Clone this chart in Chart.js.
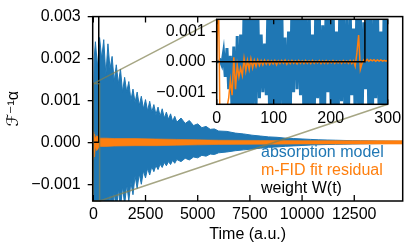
<!DOCTYPE html>
<html>
<head>
<meta charset="utf-8">
<script src="https://cdn.jsdelivr.net/npm/chart.js@4.4.1/dist/chart.umd.min.js"></script>
<style>
  body { margin: 0; background: #fff; }
  #wrap { position: relative; width: 415px; height: 244px; overflow: hidden; }
  #main { position: absolute; left: 0; top: 0; }
  #inset { position: absolute; left: 140px; top: 0; }
</style>
</head>
<body>
<div id="wrap">
  <canvas id="main" width="415" height="244"></canvas>
  <canvas id="inset" width="270" height="135"></canvas>
</div>
<script>
// ---- data ----
const legendLabels = ["absorption model", "m-FID fit residual", "weight W(t)"];
const seriesColors = ["#1f77b4", "#ff7f0e", "#000000"];

const xTicks = [0, 2500, 5000, 7500, 10000, 12500];
const yTicks = [-0.001, 0, 0.001, 0.002, 0.003];
const insetXTicks = [0, 100, 200, 300];
const insetYTicks = [-0.001, 0, 0.001];

// zoomed region (t range, value range) shown in the inset
const zoomX = [0, 300];
const zoomY = [-0.0014, 0.0014];

// absorption model, envelope of the fast oscillation (spikes and dips)
const blueTime = [0, 40, 100, 200, 300, 400, 500, 600, 700, 800, 900, 1000, 1100, 1200, 1300, 1400, 1500, 1600, 1700,
  1800, 1900, 2000, 2100, 2200, 2300, 2400, 2500, 2600, 2700, 2800, 2900, 3000, 3100, 3200, 3300, 3400, 3500, 3600,
  3700, 3800, 3900, 4000, 4200, 4400, 4600, 4800, 5000, 5200, 5400, 5600, 5800, 6000, 6400, 6800, 7200, 7600, 8000,
  8400, 8800, 9200, 9600, 10000, 10400, 10800, 11200, 11600, 12000, 12400, 12800, 13200, 13600, 14000, 14400, 14800];
const blueUpper = [0, 0.002, 0.0024, 0.0018, 0.0025, 0.002, 0.00245, 0.0016, 0.00235, 0.00175, 0.00205, 0.00145,
  0.00185, 0.0014, 0.00175, 0.0012, 0.00155, 0.0012, 0.00145, 0.001, 0.00127, 0.00095, 0.0012, 0.00088, 0.0011,
  0.0008, 0.00102, 0.00075, 0.00098, 0.00072, 0.0009, 0.00066, 0.00084, 0.00062, 0.0008, 0.00058, 0.00072, 0.00055,
  0.00068, 0.0005, 0.00062, 0.00048, 0.00058, 0.00045, 0.00052, 0.0004, 0.00044, 0.00035, 0.00038, 0.00031, 0.00032,
  0.00027, 0.00026, 0.00022, 0.0002, 0.00017, 0.00015, 0.00013, 0.00012, 0.0001, 0.00009, 0.00008, 0.00007, 0.00006,
  0.000055, 0.00005, 0.000045, 0.00004, 0.000038, 0.000035, 0.000032, 0.00003, 0.000028, 0.000025];
const blueLower = [0, -0.002, -0.0023, -0.0019, -0.0023, -0.0018, -0.0022, -0.0015, -0.002, -0.00125, -0.0019,
  -0.00115, -0.0017, -0.0011, -0.0016, -0.00105, -0.0015, -0.001, -0.0014, -0.00095, -0.00125, -0.0008, -0.0011,
  -0.00075, -0.001, -0.00068, -0.00085, -0.00062, -0.00078, -0.00058, -0.0007, -0.00055, -0.00065, -0.00052, -0.0006,
  -0.00048, -0.00056, -0.00046, -0.00053, -0.00043, -0.0005, -0.00041, -0.00046, -0.00038, -0.00042, -0.00035,
  -0.00037, -0.00031, -0.00033, -0.00028, -0.00029, -0.00025, -0.00023, -0.0002, -0.00018, -0.00016, -0.00014,
  -0.00012, -0.00011, -0.000095, -0.000085, -0.000075, -0.000065, -0.000058, -0.000052, -0.000047, -0.000043,
  -0.00004, -0.000037, -0.000034, -0.000031, -0.000029, -0.000027, -0.000025];

// m-FID fit residual, envelope
const orangeTime = [0, 20, 60, 100, 160, 300, 600, 1000, 2000, 3000, 4000, 5000, 6000, 8000, 10000, 12000, 14800];
const orangeUpper = [0.00025, 0.00005, 0.0002, 0.0001, 0.00016, 0.0001, 0.0001, 0.00009, 0.00009, 0.00008, 0.00007,
  0.00006, 0.00005, 0.000045, 0.00004, 0.00004, 0.00004];
const orangeLower = [-0.0004, -0.00015, -0.00035, -0.0001, -0.0002, -0.0001, -0.0001, -0.00009, -0.00008, -0.00008,
  -0.00007, -0.00006, -0.00005, -0.000045, -0.00004, -0.00004, -0.00004];

// weight W(t): zero, then a step far above the plotted range
const weightTime = [0, 260, 260, 14800];
const weightValue = [0, 0, 1, 1];

// inset samples (t = 0..300)
const insetTime = [0, 3, 6, 9, 12, 15, 18, 21, 24, 27, 30, 33, 36, 39, 42, 45, 48, 51, 54, 57, 60, 63, 66, 69, 72, 75,
  78, 81, 84, 87, 90, 93, 96, 99, 102, 105, 108, 111, 114, 117, 120, 123, 126, 129, 132, 135, 138, 141, 144, 147, 150,
  153, 156, 159, 162, 165, 168, 171, 174, 177, 180, 183, 186, 189, 192, 195, 198, 201, 204, 207, 210, 213, 216, 219,
  222, 225, 228, 231, 234, 237, 240, 243, 246, 249, 252, 255, 258, 261, 264, 267, 270, 273, 276, 279, 282, 285, 288,
  291, 294, 297, 300];
const insetBlue = [0, 0, 0.00005, -0.0001, 0.0003, -0.0005, 0.00045, -0.0009, 0.0002, -0.0016, 0.0005, -0.002,
  0.00085, -0.0019, 0.0009, -0.0021, 0.0018, -0.0022, 0.0022, -0.0018, 0.0024, -0.002, 0.002, -0.0015, 0.0018,
  -0.0012, 0.0009, -0.001, 0.0006, -0.0011, 0.0019, -0.002, 0.0023, -0.0019, 0.0021, -0.0022, 0.0017, -0.0016, 0.002,
  -0.0018, 0.0008, -0.002, 0.001, -0.0019, 0.0019, -0.001, 0.0022, -0.0009, 0.0018, -0.0011, 0.0021, -0.0019, 0.0016,
  -0.0021, 0.0019, -0.0015, 0.0009, -0.002, 0.002, -0.0012, 0.0017, -0.0019, 0.0012, -0.0021, 0.002, -0.001, 0.0015,
  -0.0018, 0.0021, -0.0017, 0.001, -0.002, 0.0018, -0.0013, 0.002, -0.0019, 0.0014, -0.002, 0.0019, -0.0011, 0.0011,
  -0.0019, 0.002, -0.0015, 0.0017, -0.002, 0.0013, -0.0009, 0.002, -0.0019, 0.0015, -0.0021, 0.0019, -0.0012, 0.0018,
  -0.0018, 0.001, -0.002, 0.0021, -0.0016, 0.0018];
const insetOrange = [0, 0.0025, -0.0025, -0.0022, -0.0019, -0.0018, -0.0015, -0.0012, -0.0006, -0.0011, 0.00015,
  -0.0009, -0.0001, -0.0005, -0.0002, -0.00045, 0.0001, -0.0003, 0.00005, -0.00025, 0.0001, -0.0002, 0.00005,
  -0.00015, 0.00006, -0.00012, 0.00004, -0.0001, 0.00005, -0.00008, 0.00004, -0.00009, 0.00003, -0.00007, 0.00004,
  -0.0001, 0.00003, -0.00006, 0.00004, -0.00005, 0.00005, -0.00008, 0.00003, -0.00006, 0.00004, -0.00005, 0.00003,
  -0.00007, 0.00004, -0.00005, 0.00003, -0.00006, 0.00004, -0.00005, 0.00003, -0.00006, 0.00004, -0.00005, 0.00003,
  -0.00004, 0.00004, -0.00006, 0.00003, -0.00005, 0.00004, -0.00005, 0.00003, -0.00004, 0.00004, -0.00005, 0.00003,
  -0.00004, 0.00003, -0.00005, 0.00004, -0.00004, 0.00003, -0.00005, 0.00004, -0.00006, 0.00003, -0.00015, 0.0003,
  0.00088, -0.00025, -0.00005, 0.00006, 0.00002, 0.00008, 0.00002, 0.00007, 0.00003, 0.00007, 0.00002, 0.00006,
  0.00002, 0.00006, 0.00002, 0.00005, 0.00002, 0.00005];

// ---- helpers ----
const FONT = "'Liberation Sans', 'DejaVu Sans', Arial, sans-serif";
Chart.defaults.font.family = FONT;
Chart.defaults.font.size = 16;
Chart.defaults.color = "#000";

const pts = (xs, ys) => xs.map((x, i) => ({ x: x, y: ys[i] }));
const fmt3 = (v) => {
  if (Math.abs(v) < 1e-12) return "0.000";
  return (v < 0 ? "\u2212" : "") + Math.abs(v).toFixed(3);
};
const setTicks = (arr) => (scale) => { scale.ticks = arr.map((v) => ({ value: v })); };

// frame + inward x ticks on top and bottom
const makeFrame = (tickLen) => ({
  id: "frame",
  afterDraw(chart) {
    const { ctx, chartArea: a } = chart;
    const xs = chart.scales.x;
    ctx.save();
    ctx.strokeStyle = "#000";
    ctx.lineWidth = 1.3;
    xs.ticks.forEach((t) => {
      const px = xs.getPixelForValue(t.value);
      ctx.beginPath();
      ctx.moveTo(px, a.bottom);
      ctx.lineTo(px, a.bottom - tickLen);
      ctx.moveTo(px, a.top);
      ctx.lineTo(px, a.top + tickLen);
      ctx.stroke();
    });
    ctx.lineWidth = 1.5;
    ctx.strokeRect(a.left, a.top, a.right - a.left, a.bottom - a.top);
    ctx.restore();
  }
});

const lineDs = (data, color, width, fill) => ({
  data: data,
  borderColor: color,
  backgroundColor: color,
  borderWidth: width,
  pointRadius: 0,
  fill: fill
});

// ---- inset ----
const INSET_LEFT = 140, INSET_TOP = 0;

const insetChart = new Chart(document.getElementById("inset"), {
  type: "line",
  data: {
    datasets: [
      lineDs(pts(weightTime, weightValue), seriesColors[2], 1.5, false),
      lineDs(pts(insetTime, insetOrange), seriesColors[1], 1.5, false),
      lineDs(pts(insetTime, insetBlue), seriesColors[0], 3, false)
    ]
  },
  options: {
    responsive: false,
    animation: false,
    devicePixelRatio: 1,
    events: [],
    layout: { padding: { left: 0, top: 19.3, right: 22.3, bottom: 0 } },
    plugins: { legend: { display: false }, tooltip: { enabled: false } },
    scales: {
      x: {
        type: "linear",
        min: zoomX[0],
        max: zoomX[1],
        afterBuildTicks: setTicks(insetXTicks),
        afterFit: (s) => { s.height = 30.7; },
        grid: { display: false, drawTicks: false },
        border: { display: false },
        ticks: { padding: 4.5, maxRotation: 0, autoSkip: false, callback: (v) => String(v) }
      },
      y: {
        type: "linear",
        min: zoomY[0],
        max: zoomY[1],
        afterBuildTicks: setTicks(insetYTicks),
        afterFit: (s) => { s.width = 76.7; },
        grid: { display: true, drawOnChartArea: false, drawTicks: true, tickLength: 5, color: "#000", lineWidth: 1.3 },
        border: { display: false },
        ticks: { padding: 6, autoSkip: false, callback: (v) => fmt3(v) }
      }
    }
  },
  plugins: [
    {
      id: "insetBg",
      beforeDraw(chart) {
        const { ctx, chartArea: a } = chart;
        ctx.save();
        ctx.fillStyle = "#fff";
        ctx.fillRect(a.left, a.top, a.right - a.left, a.bottom - a.top);
        ctx.restore();
      }
    },
    makeFrame(5)
  ]
});

// ---- main ----
const decor = {
  id: "decor",
  afterDatasetsDraw(chart) {
    const { ctx } = chart;
    const xs = chart.scales.x, ys = chart.scales.y;
    const ia = insetChart.chartArea;
    const x0 = xs.getPixelForValue(zoomX[0]), x1 = xs.getPixelForValue(zoomX[1]);
    const y0 = ys.getPixelForValue(zoomY[0]), y1 = ys.getPixelForValue(zoomY[1]);
    ctx.save();
    ctx.strokeStyle = "rgba(128,128,80,0.7)";
    ctx.lineWidth = 1.5;
    ctx.strokeRect(x0, y1, x1 - x0, y0 - y1);
    ctx.beginPath();
    ctx.moveTo(x0, y1);
    ctx.lineTo(INSET_LEFT + ia.left, INSET_TOP + ia.top);
    ctx.moveTo(x1, y0);
    ctx.lineTo(INSET_LEFT + ia.right, INSET_TOP + ia.bottom);
    ctx.stroke();
    ctx.restore();
  },
  afterDraw(chart) {
    const { ctx } = chart;
    ctx.save();
    ctx.font = "16px " + FONT;
    ctx.textBaseline = "alphabetic";
    ctx.textAlign = "left";
    legendLabels.forEach((lab, i) => {
      ctx.fillStyle = seriesColors[i];
      ctx.fillText(lab, 261, 156.5 + i * 18);
    });
    ctx.restore();
  }
};

new Chart(document.getElementById("main"), {
  type: "line",
  data: {
    datasets: [
      lineDs(pts(weightTime, weightValue), seriesColors[2], 1.5, false),
      lineDs(pts(orangeTime, orangeUpper), seriesColors[1], 0.6, "+1"),
      lineDs(pts(orangeTime, orangeLower), seriesColors[1], 0.6, false),
      lineDs(pts(blueTime, blueUpper), seriesColors[0], 1, "+1"),
      lineDs(pts(blueTime, blueLower), seriesColors[0], 1, false)
    ]
  },
  options: {
    responsive: false,
    animation: false,
    devicePixelRatio: 1,
    events: [],
    layout: { padding: { left: 0, top: 9.5, right: 12.3, bottom: 0 } },
    plugins: { legend: { display: false }, tooltip: { enabled: false } },
    scales: {
      x: {
        type: "linear",
        min: -30,
        max: 14820,
        afterBuildTicks: setTicks(xTicks),
        afterFit: (s) => { s.height = 43; },
        grid: { display: false, drawTicks: false },
        border: { display: false },
        ticks: { padding: 4, maxRotation: 0, autoSkip: false, callback: (v) => String(v) },
        title: { display: true, text: "Time (a.u.)", padding: { top: 0, bottom: 0 } }
      },
      y: {
        type: "linear",
        min: -0.0014,
        max: 0.003,
        afterBuildTicks: setTicks(yTicks),
        afterFit: (s) => { s.width = 92.7; },
        grid: { display: true, drawOnChartArea: false, drawTicks: true, tickLength: 5, color: "#000", lineWidth: 1.3 },
        border: { display: false },
        ticks: { padding: 7, autoSkip: false, callback: (v) => fmt3(v) },
        title: { display: true, text: "\u2131\u207B\u00B9\u03B1", padding: { top: 4, bottom: 0 } }
      }
    }
  },
  plugins: [decor, makeFrame(6)]
});
</script>
</body>
</html>
